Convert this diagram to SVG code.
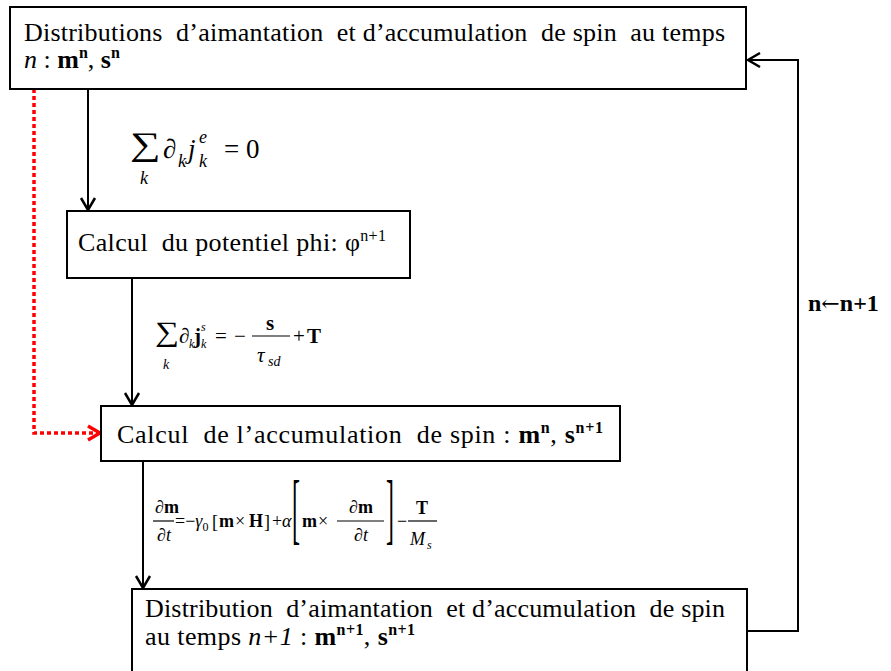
<svg xmlns="http://www.w3.org/2000/svg" width="891" height="671" viewBox="0 0 891 671">
<style>
.box{fill:#fff;stroke:#000;stroke-width:2}
.conn{fill:none;stroke:#000;stroke-width:2}
.red{fill:none;stroke:#ff0000;stroke-width:3.5;stroke-dasharray:4 3}
text{font-family:"Liberation Serif","Times New Roman",serif;fill:#000}
.t{font-size:26px}
.i{font-style:italic}
.b{font-weight:bold}
.m{font-size:27px}
.e2{font-size:21px}
.e3{font-size:18px}
.bar{stroke:#000;stroke-width:1.2}
</style>
<defs>
<marker id="ah" markerUnits="userSpaceOnUse" viewBox="0 0 16 18" refX="14" refY="9" markerWidth="16" markerHeight="18" orient="auto">
<path d="M2,2 L14,9 L2,16" fill="none" stroke="#000" stroke-width="2.5"/>
</marker>
<marker id="ahr" markerUnits="userSpaceOnUse" viewBox="0 0 16 18" refX="14" refY="9" markerWidth="16" markerHeight="18" orient="auto">
<path d="M2,2 L14,9 L2,16" fill="none" stroke="#ff0000" stroke-width="3.5"/>
</marker>
</defs>

<g id="connectors">
<path class="conn" d="M88,89 V210" marker-end="url(#ah)"/>
<path class="conn" d="M132,279 V405" marker-end="url(#ah)"/>
<path class="conn" d="M143,461 V588" marker-end="url(#ah)"/>
<path class="conn" d="M747,631 H798 V60 H748" marker-end="url(#ah)"/>
<path class="red" d="M34,89 V433 H100" marker-end="url(#ahr)"/>
</g>

<g id="node-top">
<rect class="box" x="10" y="7" width="736" height="82"/>
<text class="t" x="24" y="41" xml:space="preserve" textLength="701" lengthAdjust="spacing">Distributions  d’aimantation  et d’accumulation  de spin  au temps</text>
<text class="t" x="24" y="68" xml:space="preserve"><tspan class="i">n</tspan> : <tspan class="b">m</tspan><tspan class="b" font-size="16" dy="-10">n</tspan><tspan dy="10">, </tspan><tspan class="b">s</tspan><tspan class="b" font-size="16" dy="-10">n</tspan></text>
</g>

<g id="node-phi">
<rect class="box" x="67" y="211" width="343" height="67"/>
<text class="t" x="78" y="251" xml:space="preserve" textLength="308" lengthAdjust="spacing">Calcul  du potentiel phi: φ<tspan font-size="16" dy="-10">n+1</tspan></text>
</g>

<g id="node-spin">
<rect class="box" x="101" y="406" width="519" height="55"/>
<text class="t" x="117" y="443" xml:space="preserve" textLength="486" lengthAdjust="spacing">Calcul  de l’accumulation  de spin : <tspan class="b">m</tspan><tspan class="b" font-size="16" dy="-10">n</tspan><tspan dy="10">, </tspan><tspan class="b">s</tspan><tspan class="b" font-size="16" dy="-10">n+1</tspan></text>
</g>

<g id="node-bottom">
<rect class="box" x="132" y="589" width="615" height="100"/>
<text class="t" x="145" y="617" xml:space="preserve" textLength="580" lengthAdjust="spacing">Distribution  d’aimantation  et d’accumulation  de spin</text>
<text class="t" x="145" y="645" xml:space="preserve" textLength="270" lengthAdjust="spacing">au temps <tspan class="i">n+1</tspan> : <tspan class="b">m</tspan><tspan class="b" font-size="16" dy="-10">n+1</tspan><tspan dy="10">, </tspan><tspan class="b">s</tspan><tspan class="b" font-size="16" dy="-10">n+1</tspan></text>
</g>

<g id="label-loop">
<text class="b" x="808" y="311" font-size="24">n<tspan font-family="DejaVu Serif" font-weight="normal" font-size="22">←</tspan>n+1</text>
</g>

<g id="eq1">
<text transform="translate(130,155) scale(1.3,1)" font-size="33">∑</text>
<text class="i" x="140" y="184" font-size="18">k</text>
<text class="m" x="163" y="158">∂</text>
<text class="i" x="178" y="167" font-size="18">k</text>
<text class="i m" x="188" y="158">j</text>
<text class="i" x="199" y="143" font-size="18">e</text>
<text class="i" x="199" y="167" font-size="18">k</text>
<text class="m" x="224" y="158">=</text>
<text class="m" x="246" y="158">0</text>
</g>

<g id="eq2">
<text transform="translate(155,341) scale(1.2,1)" font-size="28">∑</text>
<text class="i" x="163" y="369" font-size="14">k</text>
<text class="e2" x="179" y="343">∂</text>
<text class="i" x="189" y="348" font-size="12">k</text>
<text class="b e2" x="194" y="343">j</text>
<text class="i" x="201" y="331" font-size="12">s</text>
<text class="i" x="201" y="348" font-size="12">k</text>
<text class="e2" x="215" y="343">=</text>
<text class="e2" x="234" y="343">−</text>
<line class="bar" x1="252" y1="336" x2="290" y2="336"/>
<text class="b e2" x="266" y="330">s</text>
<text class="i e2" x="257" y="362">τ</text>
<text class="i" x="268" y="366" font-size="14">sd</text>
<text class="e2" x="293" y="343">+</text>
<text class="b e2" x="307" y="343">T</text>
</g>

<g id="eq3">
<text class="e3" x="155" y="513">∂<tspan class="b">m</tspan></text>
<line class="bar" x1="153" y1="521" x2="174" y2="521"/>
<text class="e3" x="157" y="541">∂<tspan class="i">t</tspan></text>
<text class="e3" x="175" y="527">=−<tspan class="i">γ</tspan><tspan font-size="12" dy="4">0</tspan></text>
<text class="e3" x="212" y="528" font-size="22">[</text>
<text class="e3 b" x="219" y="527">m</text>
<text class="e3" x="235" y="527">×</text>
<text class="e3 b" x="249" y="527">H</text>
<text class="e3" x="264" y="528" font-size="22">]</text>
<text class="e3" x="272" y="527">+</text>
<text class="e3 i" x="282" y="527">α</text>
<text transform="translate(292,535) scale(1,3.3)" font-size="24">[</text>
<text class="e3 b" x="302" y="527">m</text>
<text class="e3" x="318" y="527">×</text>
<text class="e3" x="349" y="513">∂<tspan class="b">m</tspan></text>
<line class="bar" x1="337" y1="521" x2="384" y2="521"/>
<text class="e3" x="354" y="541">∂<tspan class="i">t</tspan></text>
<text transform="translate(386,535) scale(1,3.3)" font-size="24">]</text>
<text class="e3" x="397" y="527">−</text>
<line class="bar" x1="408" y1="521" x2="437" y2="521"/>
<text class="e3 b" x="416" y="514">T</text>
<text class="e3 i" x="410" y="545">M</text>
<text class="i" x="427" y="549" font-size="12">s</text>
</g>
</svg>
